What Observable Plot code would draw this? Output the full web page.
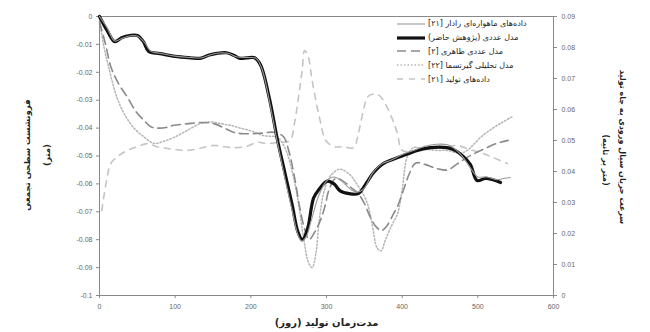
<!DOCTYPE html>
<html><head><meta charset="utf-8">
<script src="https://cdn.jsdelivr.net/npm/d3@7"></script>
<script src="https://cdn.jsdelivr.net/npm/@observablehq/plot@0.6"></script>
<style>
body{margin:0;background:#fff;}
#wrap{position:relative;width:650px;height:332px;}
#legend{position:absolute;left:397px;top:17px;font-family:"DejaVu Sans",sans-serif;font-size:8px;color:#222;}
#legend .row{display:flex;align-items:center;height:13.8px;}
#legend svg{display:block;margin-right:3px;}
.vt{position:absolute;white-space:nowrap;font-family:"DejaVu Sans",sans-serif;font-weight:bold;color:#222;line-height:1;}
</style></head><body>
<div id="wrap"><div id="legend"></div></div>
<script>
// ---- data ----
const xTicks = [0,100,200,300,400,500,600];
const leftTicks = [0,-0.01,-0.02,-0.03,-0.04,-0.05,-0.06,-0.07,-0.08,-0.09,-0.1];
const rightTicks = [0,0.01,0.02,0.03,0.04,0.05,0.06,0.07,0.08,0.09];

const satDays = [0,10,20,30,40,50,60,68,80,100,120,135,147,158,170,182,195,207,215,225,235,245,255,262,267,273,280,290,300,310,320,330,340,350,360,372,385,400,415,430,445,460,472,482,492,500,512,525,535,543];
const satVals = [0,-0.004,-0.0088,-0.0078,-0.007,-0.007,-0.0095,-0.0125,-0.0132,-0.0142,-0.0147,-0.0148,-0.0137,-0.0131,-0.0132,-0.0145,-0.0147,-0.015,-0.019,-0.031,-0.045,-0.058,-0.070,-0.078,-0.0805,-0.079,-0.073,-0.064,-0.059,-0.0575,-0.059,-0.0615,-0.063,-0.0615,-0.0565,-0.053,-0.0515,-0.0495,-0.048,-0.0465,-0.0458,-0.046,-0.048,-0.051,-0.055,-0.0575,-0.0575,-0.0585,-0.058,-0.0577];

const numDays = [0,10,20,30,40,50,58,65,80,100,120,133,145,155,168,178,186,195,205,213,225,235,245,255,262,268,275,283,290,301,310,318,330,342,352,362,375,390,405,420,437,459,470,480,490,499,510,520,530];
const numVals = [0,-0.005,-0.009,-0.0075,-0.0068,-0.0068,-0.009,-0.0125,-0.0133,-0.0143,-0.0148,-0.015,-0.0138,-0.0132,-0.013,-0.014,-0.015,-0.0148,-0.0148,-0.0175,-0.03,-0.044,-0.056,-0.068,-0.077,-0.080,-0.076,-0.065,-0.062,-0.059,-0.060,-0.0625,-0.0635,-0.0635,-0.06,-0.056,-0.0527,-0.051,-0.0495,-0.048,-0.047,-0.047,-0.048,-0.050,-0.053,-0.0588,-0.058,-0.0585,-0.0595];

const taheriDays = [0,8,15,25,37,48,58,68,77,88,98,115,133,151,165,177,190,203,215,230,243,250,258,265,272,277,285,292,298,303,312,322,332,342,350,358,366,373,380,388,394,402,410,418,430,446,460,472,486,500,512,525,540];
const taheriVals = [-0.002,-0.01,-0.018,-0.024,-0.029,-0.034,-0.037,-0.0395,-0.040,-0.0398,-0.039,-0.0385,-0.038,-0.0384,-0.040,-0.0415,-0.042,-0.042,-0.0418,-0.0415,-0.043,-0.048,-0.058,-0.069,-0.077,-0.080,-0.077,-0.073,-0.068,-0.0624,-0.058,-0.059,-0.0612,-0.0635,-0.067,-0.072,-0.0755,-0.0767,-0.075,-0.071,-0.068,-0.062,-0.056,-0.0525,-0.053,-0.0545,-0.055,-0.053,-0.0505,-0.0485,-0.047,-0.0455,-0.0444];

const geertDays = [0,5,12,23,33,45,58,72,85,98,115,133,148,160,173,186,200,217,235,245,255,263,270,276,281,286,290,296,303,309,316,322,332,340,347,354,360,367,372,378,386,394,400,407,415,430,445,459,477,486,494,505,520,532,545];
const geertVals = [-0.001,-0.0097,-0.018,-0.029,-0.035,-0.0398,-0.043,-0.0455,-0.0447,-0.0434,-0.041,-0.0384,-0.0378,-0.0384,-0.039,-0.040,-0.041,-0.0427,-0.0434,-0.047,-0.056,-0.067,-0.080,-0.088,-0.090,-0.085,-0.074,-0.0635,-0.058,-0.056,-0.0548,-0.055,-0.057,-0.06,-0.063,-0.067,-0.074,-0.083,-0.084,-0.080,-0.075,-0.0706,-0.062,-0.05,-0.047,-0.0475,-0.048,-0.048,-0.049,-0.048,-0.046,-0.043,-0.040,-0.038,-0.036];

const prodDays = [3,10,15,25,37,50,63,76,90,103,116,133,151,165,177,193,209,222,235,245,252,258,263,268,271,276,280,285,292,299,310,322,336,341,345,350,354,362,370,375,384,390,394,400,415,430,445,460,473,490,505,520,539];
const prodVals = [0.0274,0.038,0.0426,0.045,0.0468,0.048,0.049,0.048,0.0474,0.047,0.0468,0.0475,0.0484,0.048,0.0477,0.048,0.0494,0.049,0.0494,0.0495,0.05,0.056,0.064,0.073,0.079,0.077,0.071,0.064,0.056,0.05,0.048,0.048,0.0477,0.051,0.0555,0.061,0.064,0.065,0.0645,0.063,0.0587,0.055,0.052,0.0468,0.0465,0.047,0.0475,0.048,0.0484,0.047,0.046,0.0445,0.0426];

const seriesNames = ["داده‌های ماهواره‌ای رادار [۲۱]","مدل عددی (پژوهش حاضر)","مدل عددی طاهری [۲]","مدل تحلیلی گیرتسما [۲۲]","داده‌های تولید [۲۱]"];
const leftTitle = ["فرونشست سطحی تجمعی","(متر)"];
const rightTitle = ["سرعت جریان سیال ورودی به چاه تولید","(متر بر ثانیه)"];
const xTitle = "مدت‌زمان تولید (روز)";

// ---- styles ----
const styles = [
  {stroke:"#9a9a9a", strokeWidth:1.1, dash:null},
  {stroke:"#111", strokeWidth:3.2, dash:null},
  {stroke:"#8a8a8a", strokeWidth:1.6, dash:"9,5"},
  {stroke:"#b5b5b5", strokeWidth:1.5, dash:"1.5,2"},
  {stroke:"#c4c4c4", strokeWidth:1.6, dash:"6,6"}
];

// right scale (0..0.09) mapped onto left scale (-0.1..0)
const toLeft = r => r / 0.09 * 0.1 - 0.1;
const zip = (xs, ys, f = v => v) => xs.map((d, i) => ({x: d, y: f(ys[i])}));

function lineMark(data, s) {
  return Plot.line(data, {x:"x", y:"y", stroke:s.stroke, strokeWidth:s.strokeWidth, strokeDasharray:s.dash, curve:"catmull-rom"});
}

const chart = Plot.plot({
  width: 650, height: 332,
  marginLeft: 99, marginRight: 97, marginTop: 16, marginBottom: 37,
  style: {fontFamily: "Liberation Sans, Arial, sans-serif", fontSize: "7px", color: "#555", background: "#fff"},
  x: {domain: [0, 600], axis: null},
  y: {domain: [-0.1, 0], axis: null},
  marks: [
    Plot.frame({stroke: "#888"}),
    Plot.axisX(xTicks, {anchor: "bottom", tickSize: 3, tickPadding: 6, label: null, stroke: "#888", fill: "#666"}),
    Plot.axisY(leftTicks, {anchor: "left", tickSize: 3, tickPadding: 4, label: null, stroke: "#888", fill: "#666",
      tickFormat: d => d === 0 ? "0" : String(+d.toFixed(2))}),
    Plot.axisY(rightTicks.map(toLeft), {anchor: "right", tickSize: 3, tickPadding: 5, label: null, stroke: "#888", fill: "#666",
      tickFormat: (d, i) => rightTicks[i] === 0 ? "0" : String(rightTicks[i])}),
    lineMark(zip(prodDays, prodVals, toLeft), styles[4]),
    lineMark(zip(geertDays, geertVals), styles[3]),
    lineMark(zip(taheriDays, taheriVals), styles[2]),
    lineMark(zip(numDays, numVals), styles[1]),
    lineMark(zip(satDays, satVals), styles[0]),
    Plot.text([xTitle], {text: d => d, frameAnchor: "bottom", dy: 30, fontSize: 10, fontWeight: "bold", fill: "#222", fontFamily: "DejaVu Sans, sans-serif"})
  ]
});
const wrap = document.getElementById("wrap");
wrap.prepend(chart);

// rotated axis titles (HTML overlay, centred on given points)
function vTitle(text, cx, cy, deg, size) {
  const el = document.createElement("div");
  el.className = "vt";
  el.dir = "rtl";
  el.textContent = text;
  el.style.fontSize = size + "px";
  el.style.left = cx + "px";
  el.style.top = cy + "px";
  el.style.transform = `translate(-50%,-50%) rotate(${deg}deg)`;
  wrap.appendChild(el);
}
vTitle(leftTitle[0], 27, 155, -90, 8.5);
vTitle(leftTitle[1], 47, 155, -90, 8.5);
vTitle(rightTitle[0], 622, 147, 90, 8);
vTitle(rightTitle[1], 605, 160, 90, 8);

// legend overlay
const legend = document.getElementById("legend");
seriesNames.forEach((name, i) => {
  const s = styles[i];
  const row = document.createElement("div");
  row.className = "row";
  row.innerHTML = `<svg width="28" height="8"><line x1="0" x2="28" y1="4" y2="4" stroke="${s.stroke}" stroke-width="${s.strokeWidth}" ${s.dash ? `stroke-dasharray="${s.dash}"` : ""}/></svg><span dir="rtl">${name}</span>`;
  legend.appendChild(row);
});
</script>
</body></html>
